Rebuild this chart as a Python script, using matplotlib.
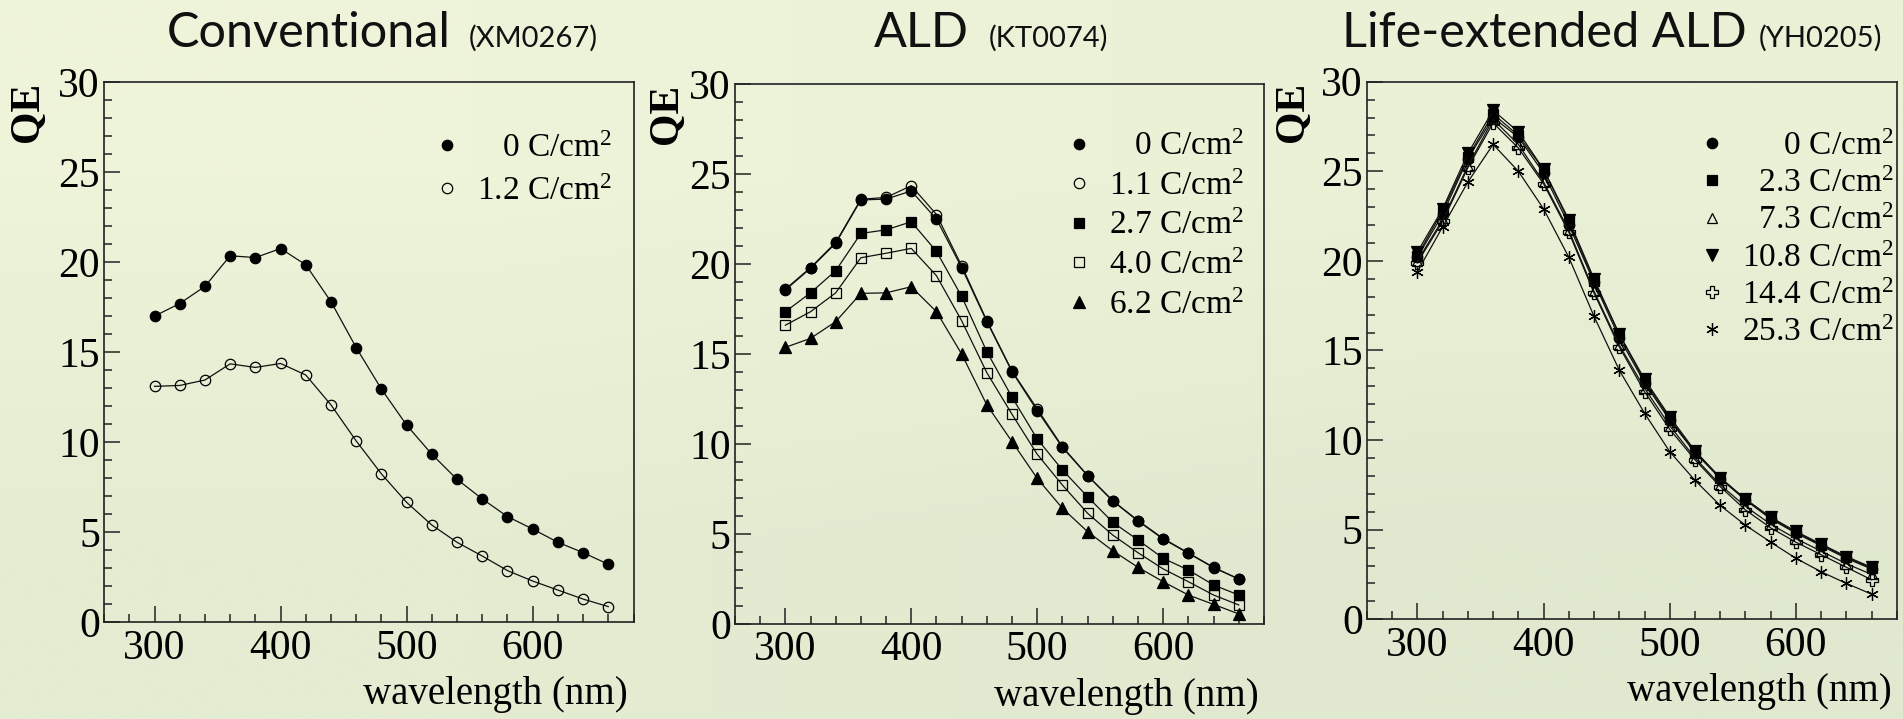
import numpy as np
import matplotlib
matplotlib.use('Agg')
import matplotlib.pyplot as plt
from matplotlib.lines import Line2D
from matplotlib.ticker import MultipleLocator

plt.rcParams['font.family'] = ['Liberation Serif', 'DejaVu Serif']
plt.rcParams['mathtext.default'] = 'regular'

# wavelength points (nm), shared by all three tubes
wavelength = [300, 320, 340, 360, 380, 400, 420, 440, 460, 480,
              500, 520, 540, 560, 580, 600, 620, 640, 660]

# Conventional (XM0267)
conv_0 = [17.0, 17.7, 18.65, 20.35, 20.25, 20.75, 19.85, 17.8, 15.25, 12.95,
          10.95, 9.33, 7.94, 6.85, 5.87, 5.18, 4.44, 3.87, 3.22]
conv_12 = [13.1, 13.15, 13.45, 14.35, 14.15, 14.37, 13.73, 12.07, 10.07, 8.24,
           6.66, 5.4, 4.44, 3.68, 2.87, 2.29, 1.79, 1.29, 0.87]

# ALD (KT0074)
ald_0 = [18.56, 19.76, 21.15, 23.56, 23.61, 24.06, 22.5, 19.8, 16.8, 14.02,
         11.85, 9.81, 8.24, 6.83, 5.72, 4.72, 3.93, 3.13, 2.5]
ald_11 = [18.6, 19.8, 21.2, 23.6, 23.7, 24.35, 22.75, 19.9, 16.85, 14.05,
          11.95, 9.85, 8.25, 6.85, 5.75, 4.75, 3.95, 3.15, 2.5]
ald_27 = [17.35, 18.4, 19.63, 21.7, 21.9, 22.35, 20.7, 18.2, 15.13, 12.6,
          10.28, 8.56, 7.07, 5.65, 4.67, 3.65, 3.0, 2.17, 1.61]
ald_40 = [16.6, 17.35, 18.4, 20.35, 20.6, 20.87, 19.35, 16.85, 13.96, 11.65,
          9.43, 7.72, 6.15, 4.94, 3.96, 3.06, 2.35, 1.61, 1.06]
ald_62 = [15.37, 15.87, 16.8, 18.37, 18.4, 18.74, 17.35, 15.0, 12.17, 10.13,
          8.09, 6.43, 5.13, 4.07, 3.15, 2.35, 1.61, 1.09, 0.56]

# Life-extended ALD (YH0205)
le_0 = [20.2, 22.6, 25.7, 28.0, 26.9, 24.9, 22.0, 18.8, 15.7, 13.2,
        11.1, 9.3, 7.85, 6.65, 5.6, 4.8, 4.1, 3.4, 2.8]
le_23 = [20.3, 22.8, 25.8, 28.2, 27.0, 25.1, 22.2, 18.9, 15.9, 13.3,
         11.2, 9.35, 7.9, 6.7, 5.65, 4.85, 4.15, 3.45, 2.85]
le_73 = [20.0, 22.3, 25.3, 27.9, 26.5, 24.4, 21.7, 18.3, 15.3, 12.9,
         10.8, 9.0, 7.5, 6.3, 5.3, 4.5, 3.8, 3.1, 2.5]
le_108 = [20.5, 22.9, 26.0, 28.4, 27.2, 25.1, 22.3, 19.0, 15.9, 13.4,
          11.3, 9.4, 7.9, 6.7, 5.7, 4.9, 4.2, 3.5, 2.9]
le_144 = [19.9, 22.2, 25.2, 27.7, 26.3, 24.3, 21.6, 18.2, 15.2, 12.7,
          10.6, 8.9, 7.4, 6.1, 5.1, 4.3, 3.6, 2.9, 2.2]
le_253 = [19.4, 21.9, 24.4, 26.5, 25.0, 22.9, 20.2, 16.9, 13.9, 11.5,
          9.35, 7.75, 6.35, 5.25, 4.3, 3.4, 2.65, 2.0, 1.4]

FS = '\u2007'  # figure space, digit wide
PS = '\u2008'  # punctuation space, period wide
unit = ' C/cm$^2$'

asterisk = (6, 2, 0)
# series: (values, label, marker, filled, size)
panels = [
    dict(title='Conventional', code='(XM0267)', tx=451, cx=469,
         pos=[0.0547, 0.1345, 0.2782, 0.7515], qx=-0.1445,
         leg=(0.959, 0.905), lsp=0.38,
         series=[(conv_0, FS + PS + '0' + unit, 'o', True, 7.5),
                 (conv_12, '1.2' + unit, 'o', False, 7.5)]),
    dict(title='ALD', code='(KT0074)', tx=969, cx=989,
         pos=[0.3862, 0.1321, 0.2780, 0.7510], qx=-0.1295,
         leg=(0.962, 0.912), lsp=0.27,
         series=[(ald_11, '1.1' + unit, 'o', False, 7.5),
                 (ald_0, FS + PS + '0' + unit, 'o', True, 7.5),
                 (ald_27, '2.7' + unit, 's', True, 7.5),
                 (ald_40, '4.0' + unit, 's', False, 7.5),
                 (ald_62, '6.2' + unit, '^', True, 8.5)]),
    dict(title='Life-extended ALD', code='(YH0205)', tx=1747, cx=1759,
         pos=[0.7183, 0.1387, 0.2785, 0.7477], qx=-0.1387,
         leg=(0.994, 0.908), lsp=0.2,
         series=[(le_0, FS + FS + PS + '0' + unit, 'o', True, 7.5),
                 (le_23, FS + '2.3' + unit, 's', True, 7.5),
                 (le_73, FS + '7.3' + unit, '^', False, 7.5),
                 (le_108, '10.8' + unit, 'v', True, 8.5),
                 (le_144, '14.4' + unit, 'P', False, 8),
                 (le_253, '25.3' + unit, asterisk, False, 9)]),
]

fig = plt.figure(figsize=(19.03, 7.19), dpi=100)

# light green slide background
bg = fig.add_axes([0, 0, 1, 1], zorder=-5)
grad = np.array([[[238, 244, 218], [234, 241, 214]],
                 [[228, 236, 210], [224, 233, 207]]]) / 255.0
bg.imshow(grad, aspect='auto', interpolation='bilinear', extent=[0, 1, 0, 1])
bg.axis('off')

for p in panels:
    ax = fig.add_axes(p['pos'])
    ax.set_facecolor('none')
    handles = []
    for vals, lab, mk, filled, ms in p['series']:
        ax.plot(wavelength, vals, color='#111111', lw=0.9, marker=mk, ms=ms,
                mfc='black' if filled else 'none', mec='black', mew=0.9)
        handles.append(Line2D([], [], ls='none', marker=mk, ms=ms,
                              mfc='black' if filled else 'none', mec='black', mew=0.9,
                              label=lab))
    order = sorted(range(len(handles)),
                   key=lambda i: float(handles[i].get_label().split(' ')[0].strip(FS + PS)))
    handles = [handles[i] for i in order]

    ax.set_xlim(260, 680)
    ax.set_ylim(0, 30)
    ax.xaxis.set_major_locator(MultipleLocator(100))
    ax.xaxis.set_minor_locator(MultipleLocator(20))
    ax.yaxis.set_major_locator(MultipleLocator(5))
    ax.yaxis.set_minor_locator(MultipleLocator(1))
    ax.tick_params(which='both', direction='in', top=False, right=False,
                   width=1.1, color='#222222', labelsize=30)
    ax.tick_params(which='major', length=11.5)
    ax.tick_params(which='minor', length=5.8)
    ax.tick_params(axis='y', pad=3)
    ax.tick_params(axis='x', pad=5)
    for s in ax.spines.values():
        s.set_linewidth(1.2)
        s.set_color('#222222')

    ax.set_xlabel('wavelength (nm)', fontsize=28, ha='right', va='baseline')
    ax.xaxis.set_label_coords(0.99, -0.152)
    ax.set_ylabel('QE', fontsize=30, fontweight='bold', ha='right', va='center')
    ax.yaxis.set_label_coords(p['qx'], 1.0)

    ax.legend(handles=handles, loc='upper right', bbox_to_anchor=p['leg'],
              frameon=False, fontsize=24, handlelength=0.8, handletextpad=0.5,
              borderpad=0, borderaxespad=0, labelspacing=p['lsp'])

    # slide title above each plot
    fig.text(p['tx'] / 1903, 1 - 47 / 719, p['title'], family='Lato',
             fontsize=35, ha='right', va='baseline', color='#111111')
    fig.text(p['cx'] / 1903, 1 - 47 / 719, p['code'], family='Lato',
             fontsize=21, ha='left', va='baseline', color='#111111')

fig.savefig('out.png', dpi=100)
